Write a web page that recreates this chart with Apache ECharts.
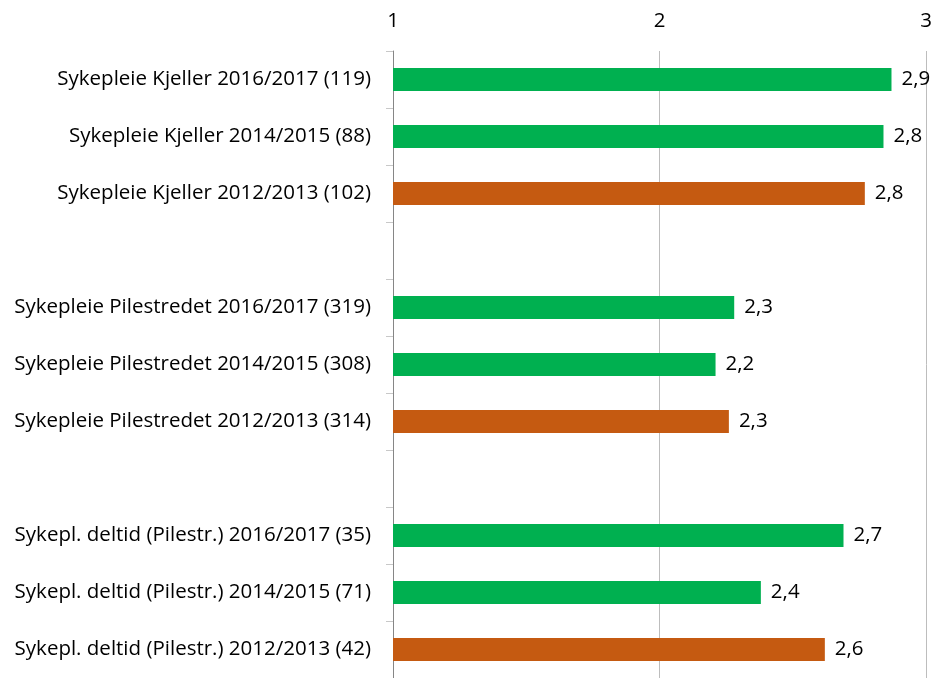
<!DOCTYPE html>
<html>
<head>
<meta charset="utf-8">
<script src="https://cdn.jsdelivr.net/npm/echarts@6/dist/echarts.min.js"></script>
<style>
html,body{margin:0;padding:0;background:#fff;}
#chart{width:935px;height:678px;}
</style>
</head>
<body>
<div id="chart"></div>
<script>
const categories = [
  'Sykepleie Kjeller 2016/2017 (119)',
  'Sykepleie Kjeller 2014/2015 (88)',
  'Sykepleie Kjeller 2012/2013 (102)',
  '',
  'Sykepleie Pilestredet 2016/2017 (319)',
  'Sykepleie Pilestredet 2014/2015 (308)',
  'Sykepleie Pilestredet 2012/2013 (314)',
  ' ',
  'Sykepl. deltid (Pilestr.) 2016/2017 (35)',
  'Sykepl. deltid (Pilestr.) 2014/2015 (71)',
  'Sykepl. deltid (Pilestr.) 2012/2013 (42)'
];
const values = [2.87, 2.84, 2.77, null, 2.28, 2.21, 2.26, null, 2.69, 2.38, 2.62];
const tickValues = [1, 2, 3];

const FONT = 'Open Sans';
const FS = 20.5;
const chart = echarts.init(document.getElementById('chart'), null, {renderer: 'canvas'});
chart.setOption({
  animation: false,
  textStyle: {fontFamily: FONT},
  grid: {left: 393, right: 5, top: 51, height: 630, containLabel: false},
  xAxis: {
    type: 'value',
    position: 'top',
    min: tickValues[0],
    max: tickValues[tickValues.length - 1],
    interval: 1,
    axisLine: {show: false},
    axisTick: {show: false},
    axisLabel: {fontSize: FS, color: '#000', fontFamily: FONT, margin: 19},
    splitLine: {show: true, lineStyle: {color: '#bdbdbd', width: 1}}
  },
  yAxis: {
    type: 'category',
    inverse: true,
    data: categories,
    axisLine: {show: true, lineStyle: {color: '#868686', width: 1}},
    axisTick: {show: true, length: 7, lineStyle: {color: '#c8c8c8'}},
    axisLabel: {fontSize: FS, color: '#000', fontFamily: FONT, margin: 22}
  },
  series: [{
    type: 'bar',
    data: values,
    barWidth: 23,
    itemStyle: {
      color: function (p) {
        return p.name.indexOf('2012/2013') >= 0 ? '#c55a11' : '#00b050';
      }
    },
    label: {
      show: true,
      position: 'right',
      distance: 10,
      fontSize: FS,
      color: '#000',
      fontFamily: FONT,
      formatter: function (p) {
        return p.value == null ? '' : p.value.toFixed(1).replace('.', ',');
      }
    }
  }]
});
</script>
</body>
</html>
